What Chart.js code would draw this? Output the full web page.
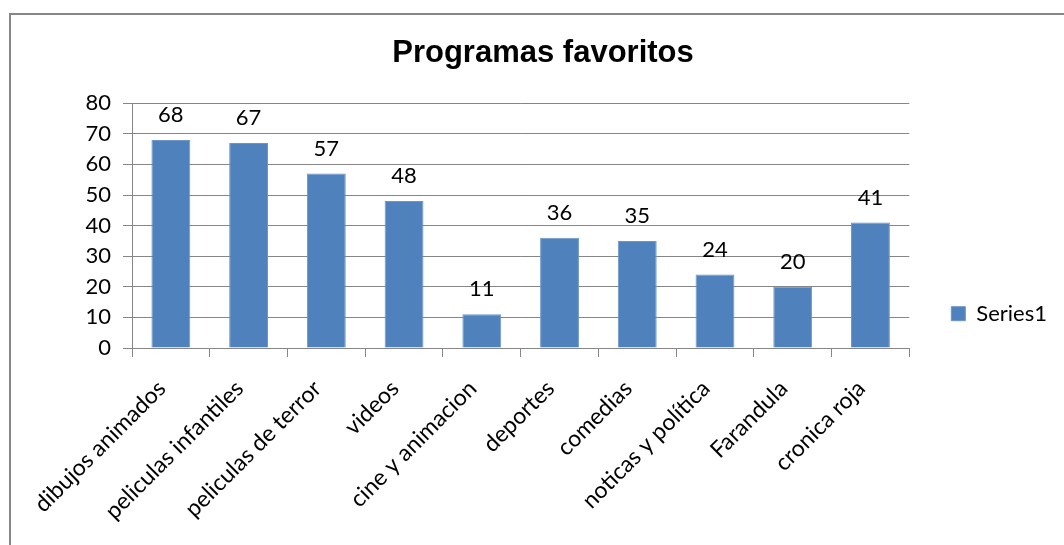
<!DOCTYPE html>
<html>
<head>
<meta charset="utf-8">
<script src="https://cdn.jsdelivr.net/npm/chart.js@4/dist/chart.umd.min.js"></script>
<style>
  html, body { margin: 0; padding: 0; background: #fff; }
  #wrap { position: relative; width: 1064px; height: 545px; overflow: hidden; }
  #frame { position: absolute; left: 9px; top: 13px; width: 1100px; height: 600px;
           border-left: 2px solid #868686; border-top: 2px solid #868686; pointer-events: none; }
  canvas { position: absolute; left: 0; top: 0; }
</style>
</head>
<body>
<div id="wrap">
  <canvas id="c" width="1064" height="545"></canvas>
  <div id="frame"></div>
</div>
<script>
const categories = ["dibujos animados", "peliculas infantiles", "peliculas de terror", "videos",
  "cine y animacion", "deportes", "comedias", "noticas y política", "Farandula", "cronica roja"];
const series1 = [68, 67, 57, 48, 11, 36, 35, 24, 20, 41];
const yTicks = [0, 10, 20, 30, 40, 50, 60, 70, 80];
const seriesName = "Series1";
const chartTitle = "Programas favoritos";

const FONT = "Lato, 'Open Sans', sans-serif";

const valueLabels = {
  id: 'valueLabels',
  afterDatasetsDraw(chart) {
    const ctx = chart.ctx;
    const meta = chart.getDatasetMeta(0);
    ctx.save();
    ctx.font = "22px " + FONT;
    ctx.fillStyle = "#000";
    ctx.textAlign = "center";
    ctx.textBaseline = "middle";
    meta.data.forEach((bar, i) => {
      ctx.fillText(String(series1[i]), bar.x, bar.y - 25);
    });
    ctx.restore();
  }
};

new Chart(document.getElementById('c'), {
  type: 'bar',
  data: {
    labels: categories,
    datasets: [{
      label: seriesName,
      data: series1,
      backgroundColor: '#4F81BD',
      borderColor: '#6D95C8',
      borderWidth: 1,
      barPercentage: 0.5,
      categoryPercentage: 1.0
    }]
  },
  options: {
    responsive: false,
    animation: false,
    devicePixelRatio: 1,
    layout: { padding: { left: 29, right: 7, top: 0, bottom: 0 } },
    plugins: {
      title: {
        display: true,
        text: chartTitle,
        color: '#000',
        font: { family: "'Liberation Sans', Arial, sans-serif", size: 31, weight: 'bold' },
        padding: { top: 35, bottom: 31 }
      },
      legend: {
        display: true,
        position: 'right',
        title: { display: true, text: '', padding: { top: 34, bottom: 34 } },
        labels: {
          boxWidth: 14,
          boxHeight: 14,
          padding: 42,
          color: '#000',
          font: { family: FONT, size: 22 }
        }
      },
      tooltip: { enabled: false }
    },
    scales: {
      x: {
        grid: { drawOnChartArea: false, drawTicks: true, tickLength: 9, color: '#868686', offset: true },
        border: { color: '#868686', width: 1 },
        ticks: {
          color: '#000',
          font: { family: FONT, size: 23 },
          minRotation: 45,
          maxRotation: 45,
          padding: 18,
          labelOffset: -9,
          autoSkip: false
        },
        afterFit(scale) { scale.height = 197; }
      },
      y: {
        min: 0,
        max: 80,
        afterBuildTicks(scale) { scale.ticks = yTicks.map(v => ({ value: v })); },
        grid: { color: '#868686', tickLength: 9 },
        border: { color: '#868686', width: 1 },
        ticks: {
          color: '#000',
          font: { family: FONT, size: 22 },
          padding: 12
        },
        afterFit(scale) { scale.width = 103; }
      }
    }
  },
  plugins: [valueLabels]
});
</script>
</body>
</html>
